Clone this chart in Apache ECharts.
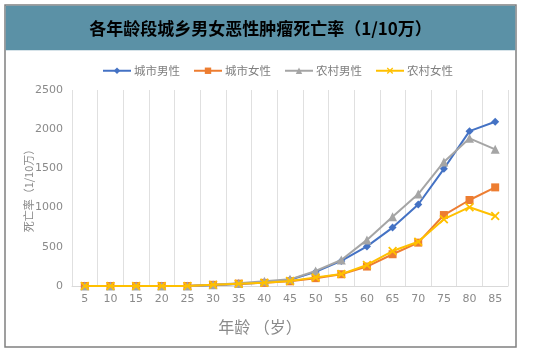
<!DOCTYPE html>
<html><head><meta charset="utf-8">
<script src="https://cdn.jsdelivr.net/npm/echarts@6/dist/echarts.min.js"></script>
<style>html,body{margin:0;padding:0;background:#fff}#c{width:538px;height:356px}</style>
</head><body><div id="c"></div>
<script>
var categories = ['5','10','15','20','25','30','35','40','45','50','55','60','65','70','75','80','85'];
var urbanMale   = [0,0,0,0,0,10,25,45,80,180,320,505,745,1040,1495,1975,2095];
var urbanFemale = [0,0,0,0,0,15,30,40,60,100,150,248,405,553,905,1097,1258];
var ruralMale   = [0,0,0,0,0,15,35,60,85,192,332,588,884,1173,1582,1884,1743];
var ruralFemale = [0,0,0,0,0,15,30,40,65,110,152,268,446,565,852,1005,893];
var seriesNames = ['城市男性','城市女性','农村男性','农村女性'];
var yTicks = [0,500,1000,1500,2000,2500];

var xPath = 'path://M0,1.4L1.4,0L5,3.6L8.6,0L10,1.4L6.4,5L10,8.6L8.6,10L5,6.4L1.4,10L0,8.6L3.6,5Z';
var colors = ['#4472C4','#ED7D31','#A5A5A5','#FFC000'];
var symbols = ['diamond','rect','triangle',xPath];
var sizes = [8,8,9,9];
var datas = [urbanMale, urbanFemale, ruralMale, ruralFemale];

var chart = echarts.init(document.getElementById('c'), null, {renderer:'canvas'});
var series = datas.map(function(d,i){
  return {
    name: seriesNames[i], type:'line', data:d,
    symbol: symbols[i], symbolSize: sizes[i], showSymbol:true,
    lineStyle:{color:colors[i], width:2},
    itemStyle:{color:colors[i]},
    z: 2+i
  };
});
chart.setOption({
  animation:false,
  color: colors,
  graphic:[
    {type:'rect', shape:{x:5,y:5,width:511,height:342}, style:{fill:'#fff', stroke:'#808080', lineWidth:1.5}, z:-10},
    {type:'rect', shape:{x:5.75,y:5.75,width:509.5,height:44.5}, style:{fill:'#5B91A6'}, z:-9},
    {type:'text', x:260.5, y:29, style:{text:'各年龄段城乡男女恶性肿瘤死亡率（1/10万）', fill:'#000', font:'bold 17px "Noto Sans CJK SC"', textAlign:'center', textVerticalAlign:'middle'}, z:5}
  ],
  legend:{
    top:60, left:97, itemWidth:28, itemHeight:8, itemGap:13,
    textStyle:{color:'#7f7f7f', fontSize:11.5, fontFamily:'"Noto Sans CJK SC"', padding:[0,0,0,-2]},
    data: seriesNames
  },
  grid:{left:72, right:30, top:90, bottom:70},
  xAxis:{
    type:'category', data:categories, boundaryGap:true,
    name:'年龄 （岁）', nameLocation:'middle', nameGap:33,
    nameTextStyle:{color:'#8a8a8a', fontSize:16, fontFamily:'"Noto Sans CJK SC"', padding:[0,60,0,0]},
    axisLine:{lineStyle:{color:'#d9d9d9'}},
    axisTick:{show:false},
    axisLabel:{color:'#8a8a8a', fontSize:11, margin:8, fontFamily:'DejaVu Sans'},
    splitLine:{show:true, lineStyle:{color:'#e0e0e0', width:1}}
  },
  yAxis:{
    type:'value', min:0, max:2500, interval:500,
    name:'死亡率（1/10万）', nameLocation:'middle', nameGap:38, nameRotate:90, nameMoveOverlap:false,
    nameTextStyle:{color:'#8a8a8a', fontSize:11, fontFamily:'"Noto Sans CJK SC"'},
    axisLine:{show:false}, axisTick:{show:false},
    axisLabel:{color:'#8a8a8a', fontSize:11, margin:9, fontFamily:'DejaVu Sans',
      formatter:function(v){return yTicks.indexOf(v)>=0? String(v):'';}},
    splitLine:{show:false}
  },
  series: series
});
</script></body></html>
